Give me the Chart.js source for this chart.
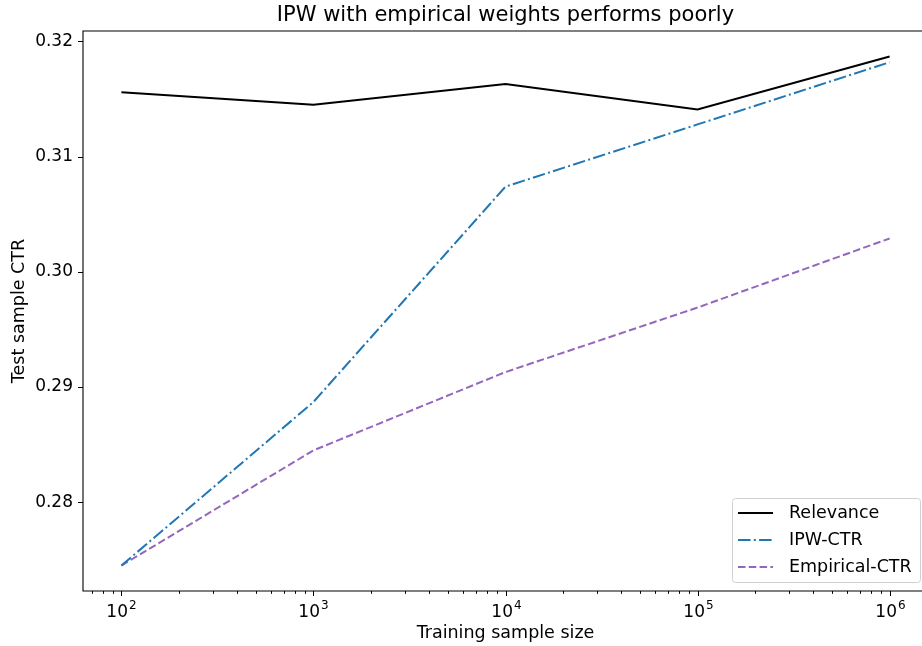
<!DOCTYPE html>
<html>
<head>
<meta charset="utf-8">
<title>IPW with empirical weights performs poorly</title>
<script src="https://cdn.jsdelivr.net/npm/chart.js@4"></script>
<style>
    html, body { margin: 0; padding: 0; background: #fff; overflow: hidden; }
    #wrap { position: relative; width: 940px; height: 646px; }
</style>
</head>
<body>
<div id="wrap"><canvas id="ctr-chart"></canvas></div>
<script>
const sampleSizes = [100, 1000, 10000, 100000, 1000000];
const relevance = [0.3156, 0.3145, 0.3163, 0.3141, 0.3187];
const ipwCtr = [0.2745, 0.2887, 0.3074, 0.3128, 0.3182];
const empiricalCtr = [0.2745, 0.2845, 0.2913, 0.2969, 0.3029];
const yTicks = [0.28, 0.29, 0.30, 0.31, 0.32];

const FONT = "'DejaVu Sans', sans-serif";

class CtrChart {
    constructor() {
        this.init();
    }

    init() {
        this.computeLimits();
        this.render();
    }

    // matplotlib style 5% margins
    computeLimits() {
        const all = relevance.concat(ipwCtr, empiricalCtr);
        const lo = Math.min(...all);
        const hi = Math.max(...all);
        this.yMin = lo - 0.05 * (hi - lo);
        this.yMax = hi + 0.05 * (hi - lo);
        const lx = Math.log10(sampleSizes[0]);
        const hx = Math.log10(sampleSizes[sampleSizes.length - 1]);
        this.xMin = Math.pow(10, lx - 0.05 * (hx - lx));
        this.xMax = Math.pow(10, hx + 0.05 * (hx - lx));
    }

    xTickValues() {
        const vals = [];
        for (let e = 1; e <= 6; e++) {
            for (let m = 1; m <= 9; m++) {
                const v = m * Math.pow(10, e);
                if (v >= this.xMin && v <= this.xMax) vals.push(v);
            }
        }
        return vals;
    }

    series(values) {
        return values.map((v, i) => ({ x: sampleSizes[i], y: v }));
    }

    render() {
        const ctx = document.getElementById('ctr-chart').getContext('2d');
        const self = this;

        const decorations = {
            id: 'decorations',
            afterDraw(chart) {
                const c = chart.ctx;
                const area = chart.chartArea;
                const xs = chart.scales.x;
                const ys = chart.scales.y;
                c.save();
                c.strokeStyle = '#000';
                c.lineWidth = 1.1;

                // spines
                c.beginPath();
                c.moveTo(area.left, area.top);
                c.lineTo(area.right, area.top);
                c.lineTo(area.right, area.bottom);
                c.lineTo(area.left, area.bottom);
                c.closePath();
                c.stroke();

                // tick marks + power-of-ten labels
                c.lineWidth = 1;
                c.fillStyle = '#000';
                xs.ticks.forEach(t => {
                    const lg = Math.log10(t.value);
                    const e = Math.round(lg);
                    const major = Math.abs(lg - e) < 1e-9;
                    const px = Math.round(xs.getPixelForValue(t.value)) + 0.5;
                    c.beginPath();
                    c.moveTo(px, area.bottom);
                    c.lineTo(px, area.bottom + (major ? 5 : 2.8));
                    c.stroke();
                    if (!major) return;
                    c.textBaseline = 'alphabetic';
                    c.textAlign = 'left';
                    c.font = '17px ' + FONT;
                    const wBase = c.measureText('10').width;
                    c.font = '12px ' + FONT;
                    const wExp = c.measureText(String(e)).width;
                    const x0 = px - (wBase + wExp + 1) / 2;
                    c.font = '17px ' + FONT;
                    c.fillText('10', x0, area.bottom + 26);
                    c.font = '12px ' + FONT;
                    c.fillText(String(e), x0 + wBase + 1, area.bottom + 18);
                });
                yTicks.forEach(v => {
                    const py = Math.round(ys.getPixelForValue(v)) + 0.5;
                    c.beginPath();
                    c.moveTo(area.left - 5, py);
                    c.lineTo(area.left, py);
                    c.stroke();
                });

                // title
                c.fillStyle = '#000';
                c.font = '21px ' + FONT;
                c.textAlign = 'center';
                c.textBaseline = 'middle';
                c.fillText('IPW with empirical weights performs poorly', (area.left + area.right) / 2, 16);

                // legend
                const items = chart.data.datasets;
                const boxL = area.right - 196, boxR = area.right - 8;
                const boxT = area.bottom - 93, boxB = area.bottom - 9;
                c.fillStyle = 'rgba(255,255,255,0.8)';
                c.strokeStyle = '#d0d0d0';
                c.lineWidth = 1;
                c.beginPath();
                c.roundRect(boxL + 0.5, boxT + 0.5, boxR - boxL, boxB - boxT, 3);
                c.fill();
                c.stroke();
                c.font = '17.5px ' + FONT;
                c.textAlign = 'left';
                items.forEach((ds, i) => {
                    const cy = boxT + 15 + i * 27;
                    c.strokeStyle = ds.borderColor;
                    c.lineWidth = ds.borderWidth;
                    c.setLineDash(ds.borderDash || []);
                    c.beginPath();
                    c.moveTo(boxL + 6, cy);
                    c.lineTo(boxL + 41, cy);
                    c.stroke();
                    c.setLineDash([]);
                    c.fillStyle = '#000';
                    c.fillText(ds.label, boxL + 57, cy);
                });
                c.restore();
            }
        };

        new Chart(ctx, {
            type: 'line',
            data: {
                datasets: [{
                    label: 'Relevance',
                    data: this.series(relevance),
                    borderColor: '#000000',
                    borderWidth: 2,
                    pointRadius: 0,
                    tension: 0
                }, {
                    label: 'IPW-CTR',
                    data: this.series(ipwCtr),
                    borderColor: '#1f77b4',
                    borderWidth: 2,
                    borderDash: [12.5, 3.3, 2, 3.3],
                    pointRadius: 0,
                    tension: 0
                }, {
                    label: 'Empirical-CTR',
                    data: this.series(empiricalCtr),
                    borderColor: '#9467bd',
                    borderWidth: 2,
                    borderDash: [7.5, 3.3],
                    pointRadius: 0,
                    tension: 0
                }]
            },
            options: {
                responsive: true,
                maintainAspectRatio: false,
                animation: false,
                events: [],
                layout: { padding: { left: 0, right: 12, top: 31, bottom: 0 } },
                plugins: {
                    legend: { display: false },
                    title: { display: false },
                    tooltip: { enabled: false }
                },
                scales: {
                    x: {
                        type: 'logarithmic',
                        min: this.xMin,
                        max: this.xMax,
                        grid: { display: false, drawTicks: false },
                        border: { display: false },
                        afterBuildTicks: scale => {
                            scale.ticks = self.xTickValues().map(v => ({ value: v }));
                        },
                        afterFit: scale => { scale.height = 55; },
                        ticks: {
                            autoSkip: false,
                            maxRotation: 0,
                            padding: 8,
                            font: { family: FONT, size: 17 },
                            callback: () => ''
                        },
                        title: {
                            display: true,
                            text: 'Training sample size',
                            color: '#000',
                            font: { family: FONT, size: 17.5 },
                            padding: { top: 0, bottom: 2 }
                        }
                    },
                    y: {
                        min: this.yMin,
                        max: this.yMax,
                        grid: { display: false, drawTicks: false },
                        border: { display: false },
                        afterBuildTicks: scale => {
                            scale.ticks = yTicks.map(v => ({ value: v }));
                        },
                        afterFit: scale => { scale.width = 83; },
                        ticks: {
                            padding: 10,
                            color: '#000',
                            font: { family: FONT, size: 17 },
                            callback: value => value.toFixed(2)
                        },
                        title: {
                            display: true,
                            text: 'Test sample CTR',
                            color: '#000',
                            font: { family: FONT, size: 17.5 },
                            padding: { top: 9, bottom: 0 }
                        }
                    }
                }
            },
            plugins: [decorations]
        });
    }
}

document.addEventListener('DOMContentLoaded', () => new CtrChart());
</script>
</body>
</html>
